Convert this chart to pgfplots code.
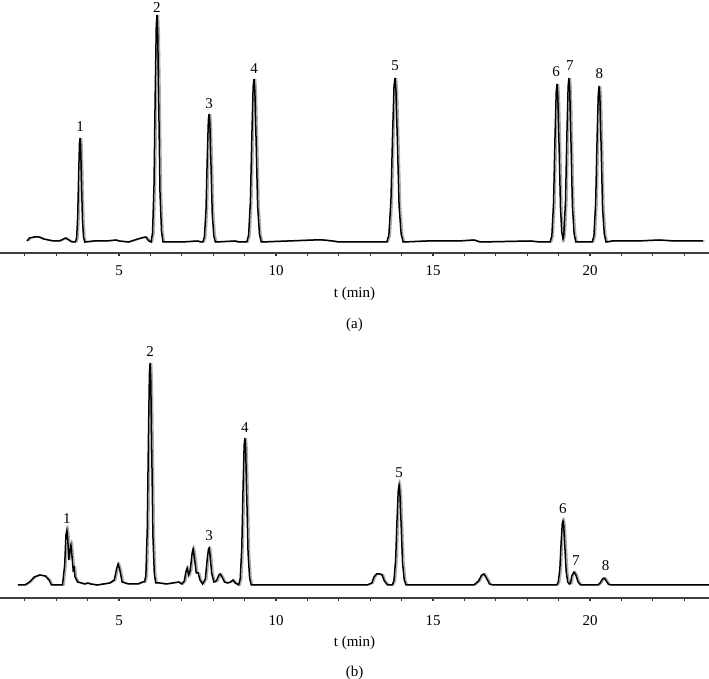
\documentclass[border=0pt]{standalone}
\usepackage{pgfplots}
\pgfplotsset{compat=1.18}
\usepackage{pgfplotstable}
\usepackage{fontspec}
\setmainfont{Liberation Serif}

\pgfplotstableread{
t y
2.07 1
2.15 4
2.30 5
2.45 5
2.60 3
2.75 2
2.90 1
3.10 1
3.30 4
3.40 2
3.50 0
3.61 0
3.65 4
3.685 26
3.715 68
3.742 99
3.76 104
3.778 96
3.805 62
3.835 23
3.87 5
3.91 0
4.20 1
4.60 1
4.90 2
5.00 1
5.30 0
5.50 2
5.70 4
5.85 5
5.95 1
6.02 0
6.068 9
6.115 57
6.153 148
6.187 216
6.21 227
6.233 209
6.267 136
6.305 50
6.353 11
6.40 0
7.00 0
7.50 1
7.60 0
7.67 0
7.72 5
7.77 32
7.81 83
7.846 122
7.87 128
7.894 118
7.93 77
7.97 28
8.02 6
8.07 0
8.70 1
8.80 0
9.07 0
9.128 7
9.185 41
9.231 106
9.272 155
9.30 163
9.328 150
9.369 98
9.415 36
9.473 8
9.53 0
11.20 2
11.50 2
11.80 1
12.00 0
13.53 0
13.595 7
13.66 41
13.712 107
13.759 156
13.79 164
13.821 151
13.868 98
13.92 36
13.985 8
14.05 0
14.80 1
15.50 1
15.80 1
16.30 2
16.50 0
18.10 1
18.40 0
18.73 0
18.785 6
18.84 40
18.884 103
18.924 150
18.95 158
18.976 145
19.016 95
19.06 35
19.10 10
19.14 3
19.165 7
19.22 41
19.264 107
19.304 156
19.33 164
19.356 151
19.396 98
19.44 36
19.495 8
19.55 0
20.07 0
20.125 6
20.18 39
20.224 101
20.264 148
20.29 156
20.316 144
20.356 94
20.40 34
20.455 8
20.51 0
20.70 1
21.50 1
22.20 2
22.70 1
23.60 1
}\tracea

\pgfplotstableread{
t y
1.78 0
2.00 0
2.15 3
2.30 8
2.47 10
2.65 9
2.77 5
2.85 0
3.20 0
3.27 20
3.31 50
3.34 55
3.37 45
3.40 25
3.44 35
3.47 40
3.50 30
3.54 15
3.57 17
3.60 8
3.68 3
3.80 2
3.90 1
4.00 2
4.10 1
4.30 0
4.50 1
4.70 2
4.85 5
4.93 17
4.97 21
5.02 16
5.10 3
5.30 1
5.60 1
5.75 3
5.81 3
5.855 9
5.90 56
5.936 144
5.968 211
5.99 222
6.012 204
6.044 133
6.08 49
6.125 11
6.17 2
6.30 2
6.50 1
6.70 2
6.90 3
7.00 1
7.08 4
7.13 13
7.17 17
7.22 10
7.27 15
7.33 32
7.36 36
7.40 28
7.46 12
7.52 12
7.58 5
7.66 1
7.75 6
7.81 26
7.85 36
7.87 37
7.90 30
7.95 12
8.02 3
8.10 4
8.18 10
8.22 11
8.28 8
8.36 3
8.45 2
8.55 3
8.63 5
8.70 2
8.76 1
8.81 0
8.86 6
8.91 37
8.95 96
8.986 140
9.01 147
9.034 135
9.07 88
9.11 32
9.16 7
9.21 0
12.90 0
13.05 2
13.12 8
13.20 11
13.30 11
13.38 10
13.45 4
13.55 0
13.70 0
13.755 4
13.81 25
13.854 65
13.894 95
13.92 100
13.946 92
13.986 60
14.03 22
14.085 5
14.14 0
16.30 0
16.45 4
16.55 10
16.62 11
16.70 7
16.80 1
16.90 0
18.94 0
18.99 3
19.04 16
19.08 42
19.116 61
19.14 64
19.164 59
19.20 38
19.24 14
19.29 3
19.34 1
19.38 2
19.42 9
19.49 13
19.55 10
19.62 3
19.70 0
20.25 0
20.32 2
20.40 6
20.45 7
20.50 5
20.58 1
20.65 0
23.79 0
}\traceb

\tikzset{pk/.style={font=\fontsize{15}{17}\selectfont, anchor=center, inner sep=0pt}}
\pgfplotsset{
  chrom/.style={
    scale only axis, width=709pt,
    xmin=1.21, xmax=23.79,
    axis x line=bottom, axis y line=none,
    axis line style={line width=1.2pt, black!75, -},
    xtick={5,10,15,20},
    minor xtick={2,3,4,6,7,8,9,11,12,13,14,16,17,18,19,21,22,23},
    tick align=outside, tick pos=bottom,
    major tick length=3pt, minor tick length=3pt,
    tick style={line width=1.2pt, black!80},
    xticklabel style={font=\fontsize{15}{17}\selectfont, anchor=center},
    /pgf/number format/assume math mode=true,
    xlabel={t (min)},
    xlabel style={font=\fontsize{15}{17}\selectfont, at={(axis description cs:0.5,0)}, anchor=center},
    clip=false,
  },
}

\begin{document}
\begin{tikzpicture}
\begin{axis}[chrom, at={(0pt,426pt)}, anchor=south west, height=253pt, ymin=-11, ymax=242,
  xticklabel style={yshift=-15pt}, xlabel style={yshift=-41pt}]
\addplot[gray!65, line width=1.4pt] table[x expr=\thisrow{t}+0.05, y=y] {\tracea};
\addplot[black, line width=1.5pt] table[x=t, y=y] {\tracea};
\node[pk] at (axis cs:3.76,115) {1};
\node[pk] at (axis cs:6.21,234) {2};
\node[pk] at (axis cs:7.87,138) {3};
\node[pk] at (axis cs:9.30,173) {4};
\node[pk] at (axis cs:13.79,176) {5};
\node[pk] at (axis cs:18.92,170) {6};
\node[pk] at (axis cs:19.36,176) {7};
\node[pk] at (axis cs:20.30,168) {8};
\node[pk] at (axis description cs:0.5,0) [yshift=-72pt] {(a)};
\end{axis}
\begin{axis}[chrom, at={(0pt,81pt)}, anchor=south west, height=273pt, ymin=-13, ymax=260,
  xticklabel style={yshift=-20pt}, xlabel style={yshift=-45pt}]
\addplot[gray!65, line width=1.4pt] table[x expr=\thisrow{t}+0.05, y=y] {\traceb};
\addplot[black, line width=1.5pt] table[x=t, y=y] {\traceb};
\node[pk] at (axis cs:3.34,66) {1};
\node[pk] at (axis cs:5.99,233) {2};
\node[pk] at (axis cs:7.87,49) {3};
\node[pk] at (axis cs:9.01,157) {4};
\node[pk] at (axis cs:13.92,112) {5};
\node[pk] at (axis cs:19.14,76) {6};
\node[pk] at (axis cs:19.55,24) {7};
\node[pk] at (axis cs:20.50,19) {8};
\node[pk] at (axis description cs:0.5,0) [yshift=-75pt] {(b)};
\end{axis}
\pgfresetboundingbox
\path (0pt,0pt) rectangle (709pt,679pt);
\end{tikzpicture}
\end{document}
